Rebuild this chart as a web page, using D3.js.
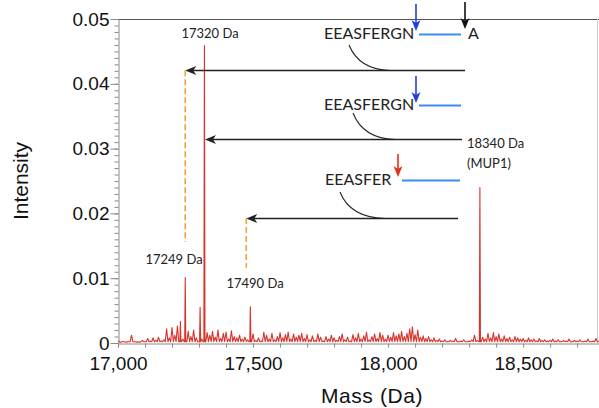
<!DOCTYPE html>
<html>
<head>
<meta charset="utf-8">
<script src="https://cdn.jsdelivr.net/npm/d3@7"></script>
<style>
  body { margin: 0; background: #fff; }
  svg { display: block; }
</style>
</head>
<body>
<svg id="chart" width="599" height="408"></svg>
<script>
// noise level, one value every 10 Da from 17000, in units of 1e-4
const noiseStart = 17000;
const noiseStep = 10;
const noiseLevels = [
  3, 1, 2, 1, 2, 12, 2, 1, 1, 4,
  2, 7, 3, 8, 4, 9, 3, 5, 22, 8,
  24, 12, 26, 33, 6, 2, 18, 10, 20, 8,
  2, 6, 2, 16, 12, 18, 9, 20, 7, 15,
  17, 6, 19, 10, 8, 12, 6, 9, 5, 2,
  14, 4, 8, 3, 17, 12, 6, 15, 5, 10,
  16, 8, 13, 17, 6, 14, 9, 12, 15, 7,
  13, 5, 11, 4, 14, 9, 3, 10, 6, 12,
  8, 4, 10, 14, 5, 9, 3, 13, 8, 15,
  6, 11, 17, 5, 10, 14, 7, 16, 12, 6,
  12, 9, 16, 11, 14, 18, 10, 15, 22, 25,
  13, 20, 9, 11, 7, 10, 5, 8, 4, 6,
  3, 5, 2, 4, 3, 7, 2, 3, 5, 2,
  3, 5, 12, 4, 2, 9, 6, 15, 8, 16,
  10, 14, 6, 11, 7, 9, 5, 10, 8, 6,
  7, 4, 8, 5, 6, 3, 7, 4, 5, 3,
  4, 6, 3, 5, 2, 4, 3, 6, 2, 4,
  3, 5, 2, 3, 6, 2, 3, 7, 2
];
const baseLevel = 0.0002;

const peakMasses = [17231, 17249, 17304, 17320, 17490, 18340];
const peakHeights = [0.0033, 0.0101, 0.0055, 0.0459, 0.0056, 0.0240];

const xTicks = [17000, 17500, 18000, 18500];
const yTicks = [0, 0.01, 0.02, 0.03, 0.04, 0.05];
const yTickLabels = ['0', '0.01', '0.02', '0.03', '0.04', '0.05'];

const peakLabels = [
  { text: '17320 Da', mass: 17320 },
  { text: '17249 Da', mass: 17249 },
  { text: '17490 Da', mass: 17490 },
];

const svg = d3.select('#chart');
const margin = { top: 19, right: 0, bottom: 65, left: 118 };
const width = 599, height = 408;

const x = d3.scaleLinear().domain([17000, 18781]).range([margin.left, width - margin.right]);
const y = d3.scaleLinear().domain([0, 0.05]).range([height - margin.bottom, margin.top]);

// build the spectrum trace
let points = [];
noiseLevels.forEach((v, i) => {
  const m = noiseStart + i * noiseStep;
  points.push({ m: m, v: v * 1e-4 });
  points.push({ m: m + 5, v: baseLevel });
});
points = points.filter(p => !peakMasses.some(pm => Math.abs(pm - p.m) < 4));
peakMasses.forEach((pm, i) => {
  points.push({ m: pm - 2, v: baseLevel });
  points.push({ m: pm, v: peakHeights[i] });
  points.push({ m: pm + 2, v: baseLevel });
});
points.sort((a, b) => a.m - b.m);

const axisColor = '#8a8a8a';
const tickFont = 'Liberation Sans, Arial, Helvetica, sans-serif';

// frame
svg.append('line')
  .attr('x1', margin.left).attr('x2', width)
  .attr('y1', y(0.05) + 0.5).attr('y2', y(0.05) + 0.5)
  .attr('stroke', '#555').attr('stroke-width', 1.2);
svg.append('line')
  .attr('x1', width - 1.5).attr('x2', width - 1.5)
  .attr('y1', y(0.05)).attr('y2', y(0))
  .attr('stroke', '#ccc').attr('stroke-width', 1);

// y axis
const yAxis = svg.append('g').attr('transform', `translate(${margin.left + 0.5},0)`);
yAxis.call(d3.axisLeft(y).tickValues(d3.range(0, 0.0505, 0.001)).tickSize(4).tickFormat(''));
yAxis.call(g => g.selectAll('.tick line').attr('stroke', axisColor));
yAxis.call(g => g.select('.domain').attr('stroke', axisColor));
const yMajor = svg.append('g').attr('transform', `translate(${margin.left + 0.5},0)`);
yMajor.call(d3.axisLeft(y).tickValues(yTicks).tickSize(8).tickPadding(1)
  .tickFormat((d, i) => yTickLabels[i]));
yMajor.select('.domain').remove();
yMajor.selectAll('.tick line').attr('stroke', axisColor);
yMajor.selectAll('.tick text')
  .attr('font-family', tickFont)
  .attr('font-size', 19).attr('fill', '#111');

// x axis
const xAxis = svg.append('g').attr('transform', `translate(0,${y(0) + 0.5})`);
xAxis.call(d3.axisBottom(x).tickValues(d3.range(17000, 18781, 100)).tickSize(4).tickFormat(''));
xAxis.select('.domain').attr('stroke', axisColor);
xAxis.selectAll('.tick line').attr('stroke', axisColor);
const xMajor = svg.append('g').attr('transform', `translate(0,${y(0) + 0.5})`);
xMajor.call(d3.axisBottom(x).tickValues(xTicks).tickSize(0).tickPadding(13).tickFormat(d3.format(',')));
xMajor.select('.domain').remove();
xMajor.selectAll('.tick text')
  .attr('font-family', tickFont)
  .attr('font-size', 19).attr('fill', '#111');

// axis titles
svg.append('text')
  .attr('x', 372).attr('y', 403)
  .attr('text-anchor', 'middle')
  .attr('font-family', tickFont).attr('font-size', 21)
  .attr('letter-spacing', 0.6)
  .attr('fill', '#111')
  .text('Mass (Da)');
svg.append('text')
  .attr('transform', 'translate(28,181) rotate(-90)')
  .attr('text-anchor', 'middle')
  .attr('font-family', tickFont).attr('font-size', 21)
  .attr('fill', '#111')
  .text('Intensity');

// spectrum
const line = d3.line().x(d => x(d.m)).y(d => y(d.v));
svg.append('path')
  .datum(points)
  .attr('d', line)
  .attr('fill', 'none')
  .attr('stroke', '#d8322a')
  .attr('stroke-width', 1.1)
  .attr('stroke-linejoin', 'round');

// annotations
const annoFont = 'Lato, Noto Sans, sans-serif';

function hArrow(m1, m2, v) {
  const x1 = x(m1), x2 = x(m2), yy = Math.round(y(v)) + 0.5;
  svg.append('line')
    .attr('x1', x1).attr('x2', x2 + 6).attr('y1', yy).attr('y2', yy)
    .attr('stroke', '#222').attr('stroke-width', 1.3);
  svg.append('path')
    .attr('d', `M${x2},${yy} L${x2 + 11},${yy - 4.5} L${x2 + 8},${yy} L${x2 + 11},${yy + 4.5} Z`)
    .attr('fill', '#222');
}

function vArrow(px, y1, y2, color) {
  svg.append('line')
    .attr('x1', px).attr('x2', px).attr('y1', y1).attr('y2', y2 - 6)
    .attr('stroke', color).attr('stroke-width', 1.6);
  svg.append('path')
    .attr('d', `M${px},${y2} L${px - 4.5},${y2 - 11} L${px},${y2 - 8} L${px + 4.5},${y2 - 11} Z`)
    .attr('fill', color);
}

function dashed(m, v1, v2) {
  svg.append('line')
    .attr('x1', x(m)).attr('x2', x(m))
    .attr('y1', y(v1)).attr('y2', y(v2))
    .attr('stroke', '#f2a03a').attr('stroke-width', 1.6)
    .attr('stroke-dasharray', '6,3');
}

function curve(x0, y0, x1, y1) {
  svg.append('path')
    .attr('d', `M${x0},${y0} Q${x0 + 10},${y1 - 1} ${x1},${y1}`)
    .attr('fill', 'none').attr('stroke', '#222').attr('stroke-width', 1.1);
}

function peptide(txt, px, py) {
  svg.append('text')
    .attr('x', px).attr('y', py)
    .attr('font-family', annoFont).attr('font-size', 16)
    .attr('fill', '#222')
    .text(txt);
}

function blueLine(x1, x2, yy) {
  svg.append('line')
    .attr('x1', x1).attr('x2', x2).attr('y1', yy).attr('y2', yy)
    .attr('stroke', '#3d8cf0').attr('stroke-width', 1.8);
}

// arrows from the intact protein towards the fragments
hArrow(18285, 17249, 0.0421);
hArrow(18274, 17322, 0.0315);
hArrow(18259, 17475, 0.0193);

dashed(17249, 0.0421, 0.0156);
dashed(17475, 0.0193, 0.0116);

// peptide schematics
peptide('EEASFERGN', 324, 39);
vArrow(416, 4, 31, '#1f3ee6');
blueLine(419, 461, 34.5);
vArrow(465, 2, 29, '#111');
svg.append('text')
  .attr('x', 468).attr('y', 39)
  .attr('font-family', annoFont).attr('font-size', 16)
  .attr('fill', '#222').text('A');
curve(349, 45, 390, 70.5);

peptide('EEASFERGN', 324, 110);
vArrow(416, 76, 103, '#1f3ee6');
blueLine(419, 461, 105.5);
curve(353, 113, 395, 139.5);

peptide('EEASFER', 325, 185);
vArrow(398, 154, 177, '#e0301e');
blueLine(402, 460, 180.5);
curve(340, 192, 385, 218.5);

// peak labels
const labelPos = [[210, 38], [174, 264], [255, 288]];
peakLabels.forEach((d, i) => {
  svg.append('text')
    .attr('x', labelPos[i][0]).attr('y', labelPos[i][1])
    .attr('text-anchor', 'middle')
    .attr('font-family', annoFont).attr('font-size', 13)
    .attr('fill', '#222')
    .text(d.text);
});
svg.append('text')
  .attr('x', 467).attr('y', 148)
  .attr('font-family', annoFont).attr('font-size', 13)
  .attr('fill', '#222').text('18340 Da');
svg.append('text')
  .attr('x', 467).attr('y', 168)
  .attr('font-family', annoFont).attr('font-size', 13)
  .attr('fill', '#222').text('(MUP1)');
</script>
</body>
</html>
